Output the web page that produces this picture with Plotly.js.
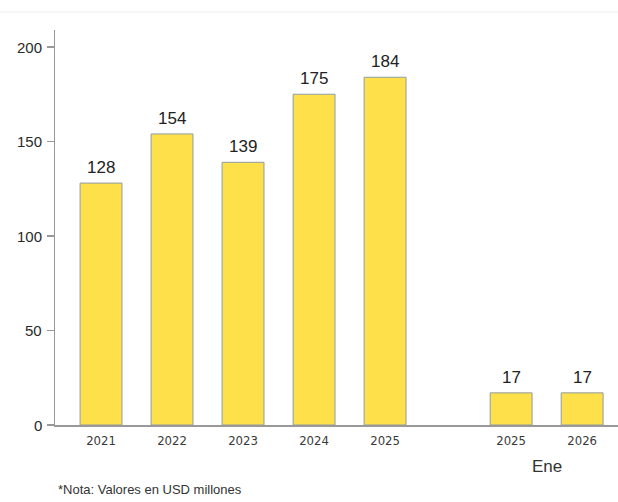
<!DOCTYPE html>
<html><head><meta charset="utf-8">
<script src="https://cdn.plot.ly/plotly-3.0.1.min.js"></script>
<style>html,body{margin:0;padding:0;background:#fff;}#chart{width:618px;height:502px;}</style>
</head><body><div id="chart"></div>
<script>
const categories = ["2021","2022","2023","2024","2025","2025","2026"];
const values = [128,154,139,175,184,17,17];
const yTicks = [0,50,100,150,200];
const groupLabel = "Ene";
const note = "*Nota: Valores en USD millones";

// positions: annual bars consecutive, then a gap before monthly (Ene) bars
const gap = 0.775;
const xs = categories.map((c,i) => i < 5 ? i : i + gap);

const FONT = "Liberation Sans, Arial, sans-serif";
const L = 55, T = 30, B = 77, W = 618, H = 502;
const pw = W - L, ph = H - T - B;

const trace = {
  type: "bar",
  x: xs,
  y: values,
  width: 0.59,
  marker: {color: "#FEE04A", line: {color: "#8E9CA3", width: 1}},
  hoverinfo: "skip"
};

const valueLabels = values.map((v,i) => ({
  text: String(v), x: xs[i], y: v, xref: "x", yref: "y",
  xanchor: "center", yanchor: "bottom", yshift: 4, showarrow: false,
  font: {family: FONT, size: 17, color: "#222"}
}));

const yLabels = yTicks.map(t => ({
  text: String(t), x: -(L - 44) / pw, y: t, xref: "paper", yref: "y",
  xanchor: "right", yanchor: "middle", showarrow: false,
  font: {family: FONT, size: 15, color: "#2a2a2a"}
}));

const layout = {
  width: W, height: H,
  margin: {l: L, r: 0, t: T, b: B},
  paper_bgcolor: "#fff", plot_bgcolor: "#fff",
  showlegend: false,
  font: {family: FONT, color: "#333"},
  xaxis: {
    range: [-0.648, 7.28],
    tickmode: "array", tickvals: xs, ticktext: categories,
    showgrid: false, zeroline: false,
    showline: true, linecolor: "#999", linewidth: 1.5,
    ticks: "", tickfont: {family: "DejaVu Sans Condensed, Liberation Sans Narrow, Arial Narrow, sans-serif", size: 13, color: "#3a3a3a"},
    ticklabelstandoff: 3,
    fixedrange: true
  },
  yaxis: {
    range: [0, 209],
    tickmode: "array", tickvals: yTicks,
    showticklabels: false,
    showgrid: false, zeroline: false,
    showline: true, linecolor: "#999", linewidth: 1.5,
    ticks: "outside", ticklen: 7, tickcolor: "#999", tickwidth: 1.5,
    fixedrange: true
  },
  annotations: valueLabels.concat(yLabels, [
    {text: groupLabel, xref: "paper", yref: "paper", x: (547 - L) / pw, y: -(466 - (H - B)) / ph,
     xanchor: "center", yanchor: "middle", showarrow: false,
     font: {family: FONT, size: 17, color: "#333"}},
    {text: note, xref: "paper", yref: "paper", x: (56 - L) / pw, y: -(489 - (H - B)) / ph,
     xanchor: "left", yanchor: "middle", showarrow: false,
     font: {family: FONT, size: 13, color: "#333"}}
  ]),
  shapes: [
    {type: "line", xref: "paper", yref: "paper", x0: -L / pw, x1: 1, y0: ((H - B) - 12) / ph, y1: ((H - B) - 12) / ph,
     line: {color: "#EEF1F1", width: 1}}
  ]
};

Plotly.newPlot("chart", [trace], layout, {staticPlot: true, displayModeBar: false});
</script></body></html>
